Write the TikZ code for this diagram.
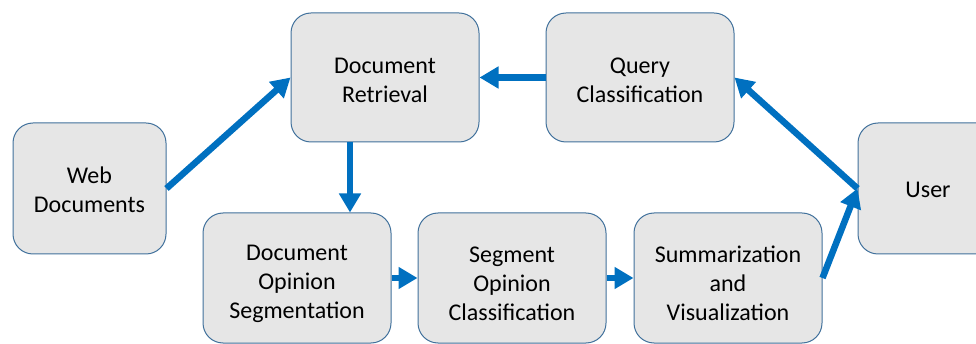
\documentclass[tikz,border=0pt]{standalone}
\usepackage{fontspec}
\setmainfont{Carlito}
\usetikzlibrary{arrows.meta,calc}
\definecolor{boxfill}{HTML}{E6E6E6}
\definecolor{boxline}{HTML}{41719C}
\definecolor{arrowblue}{HTML}{0070C0}
\begin{document}
\begin{tikzpicture}[x=1pt,y=-1pt,
  procbox/.style={draw=boxline, line width=1pt, fill=boxfill, rounded corners=20pt,
    inner sep=0pt},
  boxtext/.style={align=center, font=\fontsize{24}{29}\selectfont, inner sep=0pt},
  flow/.style={draw=arrowblue, line width=6.5pt,
    -{Triangle[length=19pt,width=21pt]}}]
\useasboundingbox (0,0) rectangle (976,344);
\node[procbox, minimum width=153pt, minimum height=131pt,
  label={[boxtext, yshift=-1.5pt]center:{Web\\Documents}}] (web) at (89.5,188.5) {};
\node[procbox, minimum width=188pt, minimum height=129pt,
  label={[boxtext, yshift=-3pt]center:{Document\\Retrieval}}] (ret) at (385,77.5) {};
\node[procbox, minimum width=188pt, minimum height=129pt,
  label={[boxtext, yshift=-3pt]center:{Query\\Classification}}] (query) at (640,77.5) {};
\node[procbox, minimum width=140pt, minimum height=131pt,
  label={[boxtext, yshift=-1.5pt]center:{User}}] (user) at (928,188.5) {};
\node[procbox, minimum width=188pt, minimum height=130pt,
  label={[boxtext, yshift=-5.5pt]center:{Document\\Opinion\\Segmentation}}] (docop) at (297,278) {};
\node[procbox, minimum width=188pt, minimum height=130pt,
  label={[boxtext, yshift=-5.5pt]center:{Segment\\Opinion\\Classification}}] (segop) at (512,278) {};
\node[procbox, minimum width=188pt, minimum height=130pt,
  label={[boxtext, yshift=-5.5pt]center:{Summarization\\and\\Visualization}}] (summ) at (728,278) {};
\draw[flow] (web.east) -- (ret.west);
\draw[flow] (query.west) -- (ret.east);
\draw[flow] ([xshift=-35pt]ret.south) -- ([xshift=-35pt]ret.south |- docop.north);
\draw[flow] (docop.east) -- (segop.west);
\draw[flow] (segop.east) -- (summ.west);
\draw[flow] (summ.east) -- (user.west);
\draw[flow] (user.west) -- (query.east);
\end{tikzpicture}
\end{document}
